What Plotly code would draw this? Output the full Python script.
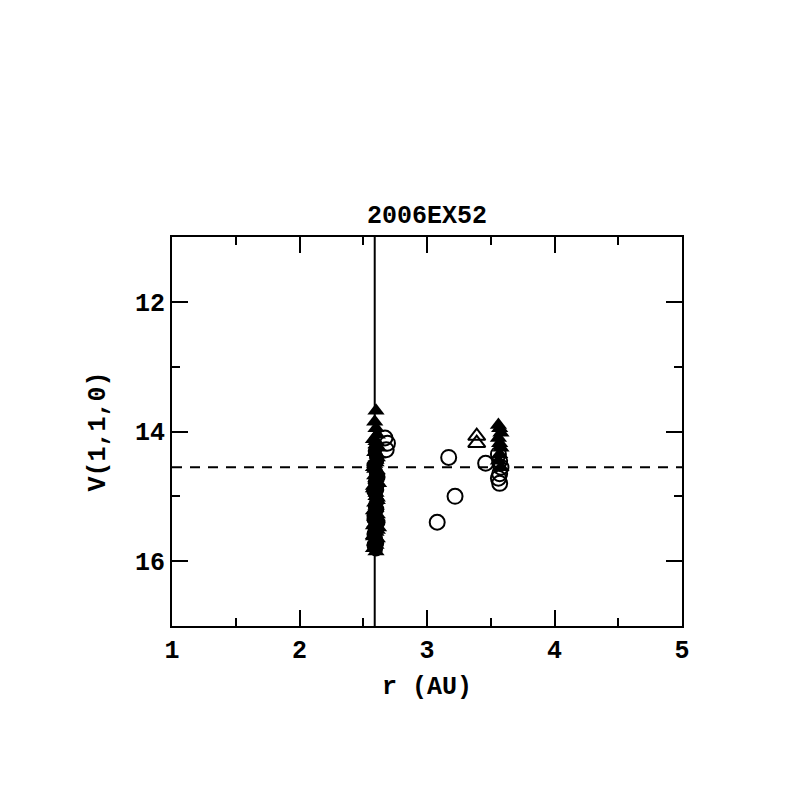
import plotly.graph_objects as go

# Main cluster near r ~ 2.6 AU (filled triangles)
tri_main_r = [2.60, 2.59, 2.60, 2.61, 2.58, 2.60, 2.62, 2.59, 2.61, 2.60, 2.58, 2.61,
              2.59, 2.60, 2.62, 2.58, 2.60, 2.61, 2.59, 2.60, 2.58, 2.61, 2.60, 2.59,
              2.62, 2.60, 2.58, 2.61, 2.59, 2.60, 2.58, 2.60, 2.60, 2.59, 2.60, 2.58,
              2.61, 2.59, 2.60, 2.58, 2.61, 2.60, 2.59, 2.61, 2.58, 2.60]
tri_main_v = [13.68, 13.85, 13.95, 14.05, 14.12, 14.20, 14.25, 14.32, 14.40, 14.48, 14.55, 14.60,
              14.68, 14.75, 14.80, 14.88, 14.95, 15.02, 15.10, 15.15, 15.22, 15.28, 15.35, 15.42,
              15.48, 15.55, 15.60, 15.65, 15.70, 15.75, 15.80, 15.85, 14.15, 14.50, 15.00, 15.45,
              14.36, 14.58, 14.72, 14.84, 15.06, 15.18, 15.32, 15.52, 15.62, 14.44]

# Main cluster (filled circles)
circ_main_r = [2.59, 2.60, 2.61, 2.58, 2.60, 2.62, 2.59, 2.61, 2.58, 2.60, 2.61, 2.59,
               2.60, 2.58, 2.61, 2.60, 2.59, 2.62, 2.58, 2.60, 2.61, 2.59, 2.60, 2.58,
               2.61, 2.59, 2.60, 2.58, 2.60, 2.61, 2.59, 2.60]
circ_main_v = [14.30, 14.38, 14.45, 14.52, 14.62, 14.70, 14.78, 14.85, 14.92, 15.00, 15.08, 15.15,
               15.22, 15.30, 15.38, 15.45, 15.50, 15.40, 15.58, 15.65, 15.72, 15.78, 15.82, 15.75,
               15.20, 14.95, 14.65, 15.35, 14.25, 14.90, 15.55, 15.12]

# Second cluster near r ~ 3.57 AU (filled triangles)
tri_far_r = [3.56, 3.57, 3.58, 3.56, 3.57, 3.58, 3.57, 3.56, 3.58]
tri_far_v = [13.90, 13.95, 14.02, 14.10, 14.18, 14.25, 14.35, 14.45, 14.55]

# Open circles
open_circ_r = [2.67, 2.69, 2.68, 3.08, 3.17, 3.22, 3.46, 3.56, 3.57, 3.58, 3.57, 3.56, 3.57]
open_circ_v = [14.10, 14.18, 14.28, 15.40, 14.40, 15.00, 14.49, 14.35, 14.45, 14.55, 14.65, 14.72, 14.80]

# Open triangles
open_tri_r = [3.39, 3.39]
open_tri_v = [14.07, 14.18]

vline_r = 2.59
hline_v = 14.55

title = "2006EX52"
x_label = "r (AU)"
y_label = "V(1,1,0)"

FONT = "Liberation Mono"

fig = go.Figure()
fig.add_trace(go.Scatter(x=circ_main_r, y=circ_main_v, mode="markers",
                         marker=dict(symbol="circle", size=14, color="black"),
                         showlegend=False))
fig.add_trace(go.Scatter(x=tri_main_r, y=tri_main_v, mode="markers",
                         marker=dict(symbol="triangle-up", size=15, color="black"),
                         showlegend=False))
fig.add_trace(go.Scatter(x=tri_far_r, y=tri_far_v, mode="markers",
                         marker=dict(symbol="triangle-up", size=15, color="black"),
                         showlegend=False))
fig.add_trace(go.Scatter(x=open_circ_r, y=open_circ_v, mode="markers",
                         marker=dict(symbol="circle-open", size=15, color="black",
                                     line=dict(width=2, color="black")),
                         showlegend=False))
fig.add_trace(go.Scatter(x=open_tri_r, y=open_tri_v, mode="markers",
                         marker=dict(symbol="triangle-up-open", size=15, color="black",
                                     line=dict(width=2, color="black")),
                         showlegend=False))

fig.add_shape(type="line", xref="x", yref="paper", x0=vline_r, x1=vline_r, y0=0, y1=1,
              line=dict(color="black", width=2))
fig.add_shape(type="line", xref="paper", yref="y", x0=0, x1=1, y0=hline_v, y1=hline_v,
              line=dict(color="black", width=2, dash="10px,8px"))

tick_font = dict(family=FONT, size=25, color="black", weight="bold")
axis_common = dict(showgrid=False, zeroline=False, showline=True, linecolor="black",
                   linewidth=2, mirror="ticks", ticks="inside", tickcolor="black",
                   tickwidth=2, ticklen=16, tickfont=tick_font)

fig.update_xaxes(range=[1, 5], dtick=1, tick0=1,
                 minor=dict(dtick=0.5, ticks="inside", ticklen=8, tickwidth=2, tickcolor="black"),
                 title=dict(text=x_label, font=tick_font, standoff=11),
                 **axis_common)
fig.update_yaxes(range=[17, 11], dtick=2, tick0=12,
                 minor=dict(dtick=1, ticks="inside", ticklen=8, tickwidth=2, tickcolor="black"),
                 title=dict(text=y_label, font=tick_font, standoff=22),
                 **axis_common)

fig.update_layout(
    width=797, height=797,
    margin=dict(l=164, r=123, t=229, b=179),
    plot_bgcolor="white", paper_bgcolor="white",
    title=dict(text=title, xref="paper", x=0.5, xanchor="center",
               y=1 - 206 / 797, yanchor="middle", font=tick_font),
)

fig.write_html("out.html")
